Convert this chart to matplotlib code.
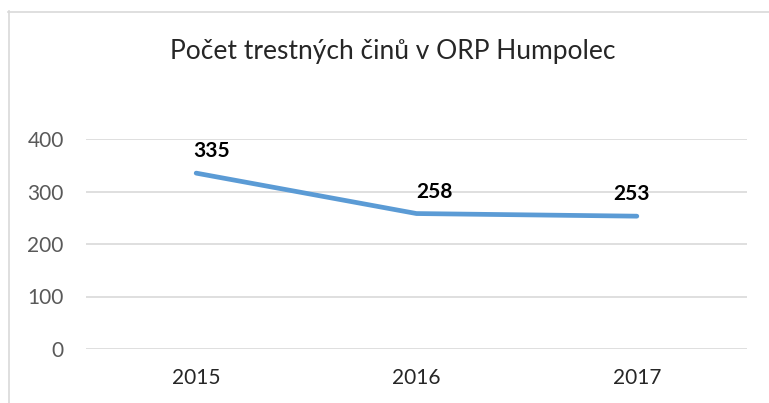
import numpy as np
import matplotlib as mpl
mpl.use('Agg')
import matplotlib.pyplot as plt
from matplotlib.lines import Line2D

mpl.rcParams['font.family'] = ['Lato', 'DejaVu Sans']

# -- data --
years = ['2015', '2016', '2017']
crimes = [335, 258, 253]
title = 'Počet trestných činů v ORP Humpolec'
yticks = [0, 100, 200, 300, 400]

# label offsets in pixels (dx, dy)
label_dx = [15, 18, -5]
label_dy = 22

W, H = 769, 403
fig = plt.figure(figsize=(W / 100., H / 100.), dpi=100)

# chart frame (left and top edges visible)
fig.add_artist(Line2D([8.5 / W, 8.5 / W], [0, 1 - 11 / H], transform=fig.transFigure,
                      color='#d9d9d9', lw=1.2))
fig.add_artist(Line2D([8 / W, 1], [1 - 11.5 / H, 1 - 11.5 / H], transform=fig.transFigure,
                      color='#d9d9d9', lw=1.2))

ax = fig.add_axes([86 / W, (H - 349) / H, (747 - 86) / W, (349 - 139) / H])
x = np.arange(len(years))
ax.plot(x, crimes, color='#5b9bd5', lw=3.4, solid_capstyle='round', solid_joinstyle='round',
        zorder=3)
for i, v in enumerate(crimes):
    ax.annotate(str(v), (x[i], v), xytext=(label_dx[i] * 0.72, label_dy * 0.72),
                textcoords='offset points', ha='center', va='center',
                fontsize=15, fontweight='bold', color='black', zorder=4)

ax.set_xlim(-0.5, len(years) - 0.5)
ax.set_ylim(0, 400)
ax.set_yticks(yticks)
ax.set_xticks(x)
ax.set_xticklabels(years)
ax.yaxis.grid(True, color='#d9d9d9', lw=1.2)
ax.set_axisbelow(True)
for s in ax.spines.values():
    s.set_visible(False)
ax.tick_params(length=0)
ax.tick_params(axis='y', labelsize=15, labelcolor='#595959', pad=16)
ax.tick_params(axis='x', labelsize=15, labelcolor='#262626', pad=14)

fig.text(393 / W, 1 - 51 / H, title, ha='center', va='center', fontsize=19, color='#262626')

fig.savefig('out.png', dpi=100)
plt.close()
